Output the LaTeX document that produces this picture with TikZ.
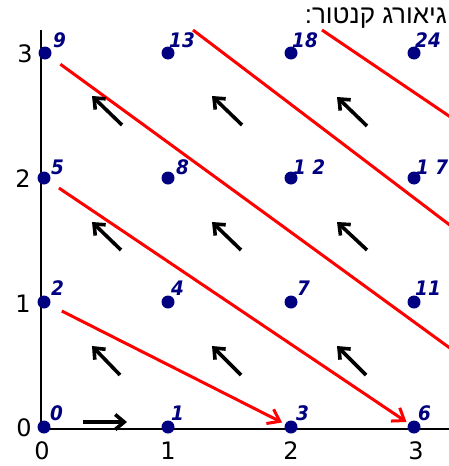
\documentclass[tikz,border=0pt]{standalone}
\usepackage{fontspec}
\usetikzlibrary{arrows.meta}
\TeXXeTstate=1
\newfontfamily\dvs{DejaVu Sans}
\newfontfamily\dvsl[FakeStretch=0.92]{DejaVu Sans}
\newfontfamily\hebfont[Script=Hebrew]{Liberation Sans}
\definecolor{navy}{HTML}{000080}
\definecolor{redline}{HTML}{FF0000}
\tikzset{
  gdot/.style={circle, fill=navy, draw=none, inner sep=0pt, minimum size=13pt},
  lab/.style={font=\dvsl\bfseries\itshape\fontsize{20}{20}\selectfont, text=navy, inner sep=0pt, anchor=base west},
  ticklab/.style={font=\dvs\fontsize{24}{24}\selectfont, inner sep=0pt, anchor=center},
  axisline/.style={line width=2.6pt, black},
  redpath/.style={draw=redline, line width=3pt},
  redarrow/.style={redpath, -{Straight Barb[length=11pt,width=16pt]}},
  movearrow/.style={draw=black, line width=3.6pt, -{Straight Barb[length=9pt,width=15pt]}}
}
\begin{document}
\begin{tikzpicture}[x=1pt,y=-1pt]
\useasboundingbox (0,0) rectangle (448,466);
% axes
\coordinate (ytop) at (41,30);
\coordinate (orig) at (41,429);
\coordinate (xend) at (460,429);
\draw[axisline] (ytop) -- (orig) -- (xend);
% grid dots
\node[gdot] (d00) at (44,427) {};
\node[gdot] (d10) at (168,427) {};
\node[gdot] (d20) at (291,427) {};
\node[gdot] (d30) at (414,427) {};
\node[gdot] (d01) at (44,302) {};
\node[gdot] (d11) at (168,302) {};
\node[gdot] (d21) at (291,302) {};
\node[gdot] (d31) at (414,302) {};
\node[gdot] (d02) at (44,178) {};
\node[gdot] (d12) at (168,178) {};
\node[gdot] (d22) at (291,178) {};
\node[gdot] (d32) at (414,178) {};
\node[gdot] (d03) at (45,53) {};
\node[gdot] (d13) at (168,53) {};
\node[gdot] (d23) at (291,53) {};
\node[gdot] (d33) at (414,53) {};
% labels
\node[lab, xshift=6pt, yshift=7pt] (l00) at (d00.center) {0};
\node[lab, xshift=3pt, yshift=7pt] (l10) at (d10.center) {1};
\node[lab, xshift=5pt, yshift=7pt] (l20) at (d20.center) {3};
\node[lab, xshift=4pt, yshift=7pt] (l30) at (d30.center) {6};
\node[lab, xshift=7pt, yshift=7pt] (l01) at (d01.center) {2};
\node[lab, xshift=3pt, yshift=7pt] (l11) at (d11.center) {4};
\node[lab, xshift=6pt, yshift=7pt] (l21) at (d21.center) {7};
\node[lab, xshift=1pt, yshift=7pt] (l31) at (d31.center) {11};
\node[lab, xshift=7pt, yshift=4pt] (l02) at (d02.center) {5};
\node[lab, xshift=8pt, yshift=3.5pt] (l12) at (d12.center) {8};
\node[lab, xshift=2pt, yshift=3.5pt] (l22) at (d22.center) {1 2};
\node[lab, xshift=2pt, yshift=3.5pt] (l32) at (d32.center) {1 7};
\node[lab, xshift=8pt, yshift=6pt] (l03) at (d03.center) {9};
\node[lab, xshift=1pt, yshift=5.5pt] (l13) at (d13.center) {13};
\node[lab, xshift=1pt, yshift=5.5pt] (l23) at (d23.center) {18};
\node[lab, xshift=1pt, yshift=6pt] (l33) at (d33.center) {24};
% axis tick labels
\node[ticklab] (ty0) at (24,428) {0};
\node[ticklab] (ty1) at (23,304) {1};
\node[ticklab] (ty2) at (23,179) {2};
\node[ticklab] (ty3) at (25,54) {3};
\node[ticklab] (tx0) at (42,451) {0};
\node[ticklab] (tx1) at (168,451) {1};
\node[ticklab] (tx2) at (291,451) {2};
\node[ticklab] (tx3) at (416,451) {3};
% red diagonals
\coordinate (e3) at (480,370);
\coordinate (s4) at (193,30);
\coordinate (e4) at (480,248);
\coordinate (s5) at (322,30);
\coordinate (e5) at (480,137);
\draw[redarrow, shorten <=20pt, shorten >=10pt] (d01.center) -- (d20.center);
\draw[redarrow, shorten <=18pt, shorten >=9pt] (d02.center) -- (d30.center);
\draw[redpath, shorten <=19pt] (d03.center) -- (e3);
\draw[redpath] (s4) -- (e4);
\draw[redpath] (s5) -- (e5);
% black move arrows
\coordinate (h0) at (83,422); \coordinate (h1) at (127,422);
\draw[movearrow] (h0) -- (h1);
\coordinate (a1t) at (122,125); \coordinate (a1h) at (92,96);
\coordinate (a2t) at (242,125); \coordinate (a2h) at (212,96);
\coordinate (a3t) at (367,126); \coordinate (a3h) at (337,97);
\coordinate (b1t) at (121,250); \coordinate (b1h) at (92,222);
\coordinate (b2t) at (241,250); \coordinate (b2h) at (212,222);
\coordinate (b3t) at (367,250); \coordinate (b3h) at (337,222);
\coordinate (c1t) at (120,375); \coordinate (c1h) at (92,346);
\coordinate (c2t) at (241,375); \coordinate (c2h) at (212,346);
\coordinate (c3t) at (366,375); \coordinate (c3h) at (337,346);
\foreach \p in {a1,a2,a3,b1,b2,b3,c1,c2,c3}{
  \draw[movearrow] (\p t) -- (\p h);
}
% title
\node[anchor=base east, inner sep=0pt, font=\hebfont\fontsize{26}{26}\selectfont] (title) at (447,23) {\beginR גיאורג קנטור:\endR};
\end{tikzpicture}
\end{document}
